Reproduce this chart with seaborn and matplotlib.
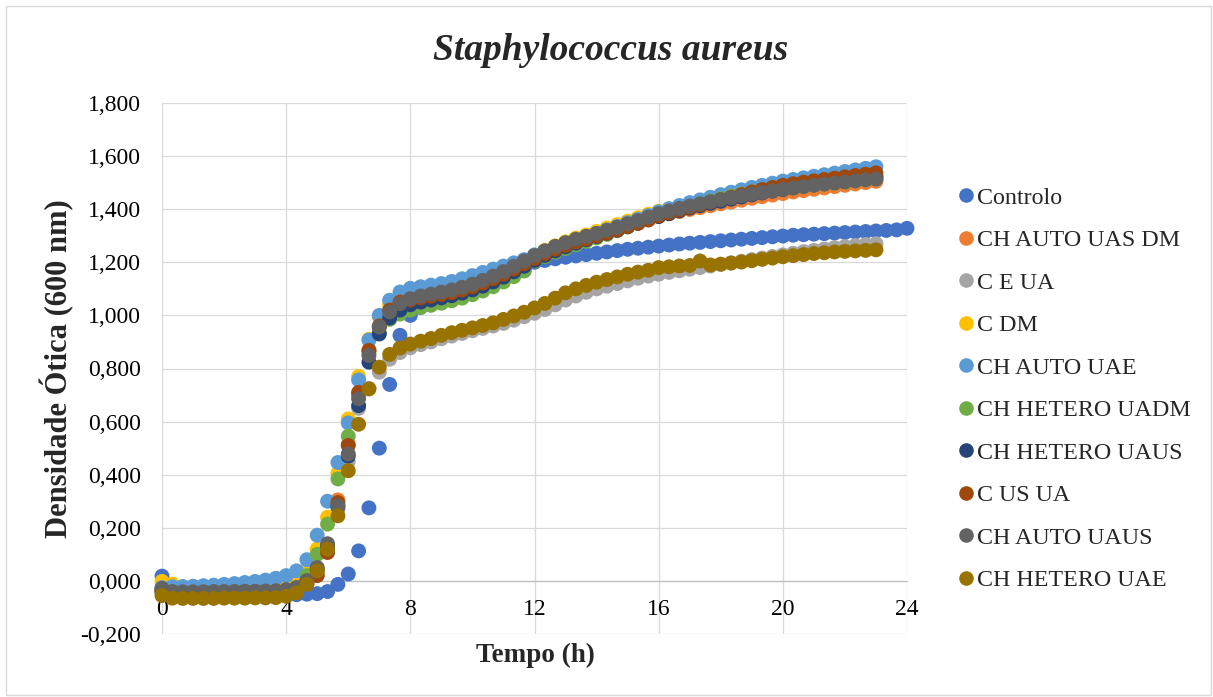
import numpy as np
import pandas as pd
import matplotlib
matplotlib.use("Agg")
import matplotlib.pyplot as plt
from matplotlib.lines import Line2D
from matplotlib.patches import Rectangle
from matplotlib.ticker import FuncFormatter
import seaborn as sns

# Optical density (600 nm) readings, one every 20 minutes
series_names = [
    "Controlo", "CH AUTO UAS DM", "C E UA", "C DM", "CH AUTO UAE",
    "CH HETERO UADM", "CH HETERO UAUS", "C US UA", "CH AUTO UAUS", "CH HETERO UAE",
]
series_colors = [
    "#4472C4", "#ED7D31", "#A5A5A5", "#FFC000", "#5B9BD5",
    "#70AD47", "#264478", "#9E480E", "#636363", "#997300",
]

controlo = [
    0.018, -0.050, -0.052, -0.053, -0.053, -0.053, -0.053, -0.053, -0.053, -0.052, -0.052, -0.052,
    -0.055, -0.052, -0.050, -0.048, -0.040, -0.013, 0.026, 0.113, 0.275, 0.500, 0.740, 0.925,
    1.000, 1.030, 1.045, 1.058, 1.070, 1.082, 1.095, 1.108, 1.122, 1.137, 1.152, 1.168,
    1.200, 1.207, 1.213, 1.219, 1.224, 1.229, 1.234, 1.239, 1.244, 1.249, 1.253, 1.257,
    1.261, 1.265, 1.269, 1.272, 1.275, 1.278, 1.281, 1.284, 1.287, 1.290, 1.293, 1.296,
    1.299, 1.302, 1.304, 1.306, 1.308, 1.310, 1.312, 1.314, 1.316, 1.318, 1.320, 1.322,
    1.328,
]
ch_auto_uas_dm = [
    -0.030, -0.042, -0.042, -0.042, -0.042, -0.041, -0.041, -0.041, -0.040, -0.040, -0.039, -0.038,
    -0.035, -0.028, -0.005, 0.025, 0.130, 0.305, 0.515, 0.700, 0.870, 0.955, 1.010, 1.040,
    1.060, 1.069, 1.076, 1.084, 1.092, 1.102, 1.114, 1.128, 1.144, 1.161, 1.181, 1.201,
    1.222, 1.240, 1.257, 1.271, 1.284, 1.296, 1.308, 1.320, 1.332, 1.344, 1.355, 1.365,
    1.374, 1.383, 1.391, 1.399, 1.406, 1.413, 1.420, 1.427, 1.434, 1.441, 1.447, 1.453,
    1.459, 1.465, 1.470, 1.475, 1.480, 1.485, 1.490, 1.495, 1.500, 1.505,
]
c_e_ua = [
    -0.045, -0.058, -0.059, -0.059, -0.059, -0.058, -0.058, -0.058, -0.057, -0.057, -0.056, -0.055,
    -0.052, -0.040, -0.010, 0.035, 0.115, 0.270, 0.450, 0.650, 0.725, 0.786, 0.835, 0.860,
    0.878, 0.890, 0.900, 0.912, 0.922, 0.932, 0.942, 0.951, 0.960, 0.970, 0.982, 0.995,
    1.008, 1.022, 1.040, 1.058, 1.073, 1.087, 1.100, 1.110, 1.120, 1.130, 1.140, 1.148,
    1.155, 1.162, 1.168, 1.174, 1.180, 1.186, 1.192, 1.198, 1.204, 1.210, 1.216, 1.222,
    1.228, 1.234, 1.240, 1.245, 1.250, 1.255, 1.259, 1.263, 1.267, 1.270,
]
c_dm = [
    -0.002, -0.012, -0.030, -0.035, -0.036, -0.036, -0.035, -0.035, -0.034, -0.033, -0.032, -0.030,
    -0.025, -0.010, 0.040, 0.120, 0.240, 0.405, 0.610, 0.770, 0.910, 0.995, 1.040, 1.065,
    1.075, 1.082, 1.088, 1.094, 1.100, 1.108, 1.118, 1.130, 1.145, 1.162, 1.182, 1.203,
    1.225, 1.245, 1.262, 1.277, 1.291, 1.303, 1.316, 1.329, 1.342, 1.355, 1.368, 1.381,
    1.392, 1.401, 1.410, 1.418, 1.426, 1.433, 1.440, 1.447, 1.453, 1.459, 1.465, 1.470,
    1.475, 1.480, 1.485, 1.490, 1.494, 1.498, 1.502, 1.506, 1.510, 1.513,
]
ch_auto_uae = [
    -0.025, -0.022, -0.021, -0.020, -0.018, -0.016, -0.013, -0.010, -0.006, -0.002, 0.003, 0.010,
    0.020, 0.038, 0.080, 0.172, 0.300, 0.446, 0.595, 0.757, 0.907, 1.000, 1.057, 1.088,
    1.102, 1.108, 1.114, 1.120, 1.128, 1.138, 1.150, 1.162, 1.174, 1.186, 1.198, 1.210,
    1.228, 1.242, 1.256, 1.270, 1.283, 1.296, 1.309, 1.322, 1.335, 1.349, 1.362, 1.376,
    1.390, 1.402, 1.414, 1.425, 1.435, 1.445, 1.455, 1.464, 1.473, 1.482, 1.490, 1.498,
    1.506, 1.512, 1.518, 1.524, 1.530, 1.536, 1.542, 1.548, 1.554, 1.560,
]
ch_hetero_uadm = [
    -0.040, -0.048, -0.048, -0.048, -0.048, -0.047, -0.047, -0.046, -0.046, -0.045, -0.044, -0.043,
    -0.040, -0.025, 0.020, 0.100, 0.214, 0.384, 0.545, 0.700, 0.860, 0.935, 0.985, 1.005,
    1.020, 1.030, 1.038, 1.046, 1.055, 1.065, 1.078, 1.092, 1.108, 1.126, 1.146, 1.168,
    1.205, 1.222, 1.238, 1.252, 1.266, 1.279, 1.292, 1.305, 1.319, 1.333, 1.347, 1.361,
    1.374, 1.386, 1.398, 1.409, 1.420, 1.430, 1.440, 1.449, 1.457, 1.465, 1.472, 1.478,
    1.484, 1.489, 1.494, 1.499, 1.504, 1.508, 1.512, 1.516, 1.520, 1.524,
]
ch_hetero_uaus = [
    -0.038, -0.046, -0.046, -0.046, -0.046, -0.045, -0.045, -0.045, -0.044, -0.044, -0.043, -0.042,
    -0.038, -0.028, 0.000, 0.045, 0.130, 0.280, 0.470, 0.660, 0.824, 0.930, 0.990, 1.020,
    1.040, 1.050, 1.058, 1.066, 1.074, 1.084, 1.096, 1.110, 1.126, 1.144, 1.164, 1.185,
    1.207, 1.226, 1.243, 1.258, 1.272, 1.285, 1.297, 1.309, 1.321, 1.334, 1.347, 1.360,
    1.372, 1.383, 1.394, 1.404, 1.413, 1.422, 1.430, 1.438, 1.446, 1.454, 1.461, 1.468,
    1.474, 1.480, 1.486, 1.491, 1.496, 1.501, 1.506, 1.511, 1.516, 1.520,
]
c_us_ua = [
    -0.035, -0.042, -0.043, -0.043, -0.043, -0.042, -0.042, -0.041, -0.041, -0.040, -0.040, -0.039,
    -0.036, -0.030, -0.010, 0.020, 0.107, 0.295, 0.510, 0.710, 0.868, 0.960, 1.020, 1.050,
    1.058, 1.066, 1.072, 1.079, 1.086, 1.096, 1.108, 1.122, 1.138, 1.155, 1.175, 1.195,
    1.215, 1.233, 1.250, 1.264, 1.277, 1.288, 1.299, 1.310, 1.322, 1.335, 1.347, 1.360,
    1.375, 1.386, 1.397, 1.407, 1.417, 1.427, 1.436, 1.445, 1.455, 1.465, 1.474, 1.482,
    1.490, 1.496, 1.502, 1.507, 1.512, 1.517, 1.522, 1.527, 1.532, 1.537,
]
ch_auto_uaus = [
    -0.028, -0.040, -0.041, -0.041, -0.041, -0.040, -0.040, -0.040, -0.039, -0.039, -0.038, -0.037,
    -0.033, -0.025, 0.000, 0.050, 0.140, 0.283, 0.478, 0.686, 0.849, 0.956, 1.013, 1.044,
    1.063, 1.073, 1.080, 1.088, 1.096, 1.106, 1.118, 1.132, 1.148, 1.165, 1.185, 1.205,
    1.225, 1.243, 1.260, 1.274, 1.287, 1.298, 1.309, 1.320, 1.332, 1.345, 1.357, 1.370,
    1.383, 1.393, 1.403, 1.412, 1.420, 1.428, 1.436, 1.443, 1.450, 1.457, 1.463, 1.469,
    1.475, 1.480, 1.485, 1.490, 1.494, 1.498, 1.502, 1.506, 1.510, 1.513,
]
ch_hetero_uae = [
    -0.055, -0.065, -0.066, -0.066, -0.066, -0.066, -0.065, -0.065, -0.065, -0.064, -0.064, -0.063,
    -0.058, -0.045, -0.013, 0.038, 0.119, 0.245, 0.415, 0.590, 0.723, 0.805, 0.853, 0.877,
    0.892, 0.903, 0.913, 0.925, 0.935, 0.944, 0.953, 0.962, 0.972, 0.985, 0.998, 1.012,
    1.028, 1.045, 1.065, 1.085, 1.100, 1.113, 1.125, 1.135, 1.145, 1.155, 1.163, 1.170,
    1.180, 1.183, 1.186, 1.188, 1.205, 1.190, 1.193, 1.197, 1.201, 1.206, 1.211, 1.216,
    1.221, 1.225, 1.229, 1.233, 1.236, 1.239, 1.241, 1.243, 1.245, 1.247,
]

series_values = [
    controlo, ch_auto_uas_dm, c_e_ua, c_dm, ch_auto_uae,
    ch_hetero_uadm, ch_hetero_uaus, c_us_ua, ch_auto_uaus, ch_hetero_uae,
]

x_ticks = [0, 4, 8, 12, 16, 20, 24]
y_ticks = [-0.2, 0.0, 0.2, 0.4, 0.6, 0.8, 1.0, 1.2, 1.4, 1.6, 1.8]

# Long-format table: one row per reading, series in drawing order
frames = []
for name, vals in zip(series_names, series_values):
    frames.append(pd.DataFrame({
        "Tempo": np.arange(len(vals)) / 3.0,
        "DO": vals,
        "Amostra": name,
    }))
data = pd.concat(frames, ignore_index=True)

sns.set_style("white")
plt.rcParams["font.family"] = ["Liberation Serif", "DejaVu Serif"]

W, H = 1213, 697
fig = plt.figure(figsize=(W / 100, H / 100), dpi=100)
ax = fig.add_axes([162 / W, 1 - 634 / H, (907 - 162) / W, (634 - 103) / H])

sns.scatterplot(
    data=data, x="Tempo", y="DO", hue="Amostra",
    hue_order=series_names, palette=series_colors,
    s=115, linewidth=0, alpha=1, legend=False, ax=ax, clip_on=False, zorder=3,
)

ax.set_xlim(0, 24)
ax.set_ylim(-0.2, 1.8)
ax.set_xticks(x_ticks)
ax.set_yticks(y_ticks)
ax.yaxis.set_major_formatter(FuncFormatter(lambda v, _: f"{v:.3f}".replace(".", ",")))
ax.grid(True, color="#D9D9D9", linewidth=0.9)
ax.set_axisbelow(True)
for side in ["top", "right", "left"]:
    ax.spines[side].set_visible(False)
ax.spines["bottom"].set_position(("data", 0))
ax.spines["bottom"].set_color("#BFBFBF")
ax.spines["bottom"].set_linewidth(0.9)
ax.tick_params(axis="x", length=0, pad=13, labelsize=17, colors="black")
ax.tick_params(axis="y", length=0, pad=15, labelsize=17, colors="black")
ax.set_xlabel("")
ax.set_ylabel("")

fig.text(57 / W, 1 - 369 / H, "Densidade Ótica (600 nm)", rotation=90,
         ha="center", va="center", fontsize=22, fontweight="bold")
fig.text(535 / W, 1 - 655 / H, "Tempo (h)", ha="center", va="center",
         fontsize=19.5, fontweight="bold")
fig.text(611 / W, 1 - 51 / H, "Staphylococcus aureus", ha="center", va="center",
         fontsize=27, fontweight="bold", fontstyle="italic")

handles = [
    Line2D([0], [0], marker="o", linestyle="none", markersize=10.5,
           markerfacecolor=c, markeredgewidth=0, label=n)
    for n, c in zip(series_names, series_colors)
]
fig.legend(handles=handles, loc="upper left", bbox_to_anchor=(959 / W, 1 - 187 / H),
           frameon=False, fontsize=17.3, handlelength=0.55, handletextpad=0.2,
           labelspacing=0.86, borderpad=0, borderaxespad=0)

fig.patches.append(Rectangle((6 / W, 2 / H), (W - 8) / W, (H - 8) / H,
                             transform=fig.transFigure, fill=False,
                             edgecolor="#D9D9D9", linewidth=1))

fig.savefig("out.png", dpi=100)
